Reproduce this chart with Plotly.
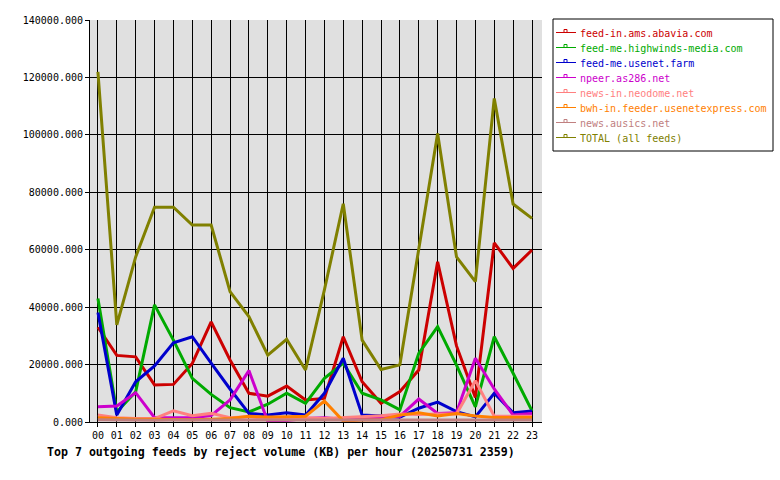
import plotly.graph_objects as go

hours = [f"{h:02d}" for h in range(24)]

feed_names = [
    "feed-in.ams.abavia.com",
    "feed-me.highwinds-media.com",
    "feed-me.usenet.farm",
    "npeer.as286.net",
    "news-in.neodome.net",
    "bwh-in.feeder.usenetexpress.com",
    "news.ausics.net",
    "TOTAL (all feeds)",
]
feed_colors = ["#cc0000", "#00aa00", "#0000cc", "#cc00cc", "#ff8080", "#ff8000", "#c08080", "#808000"]

abavia = [33000, 23200, 22700, 12900, 13100, 20400, 34900, 21600, 10000, 9000, 12500, 7700,
          8200, 29700, 14000, 6500, 10600, 18100, 55800, 26500, 8500, 62400, 53500, 59900]
highwinds = [43000, 3500, 10500, 40800, 28500, 15200, 9600, 5000, 3500, 6200, 10000, 6500,
             15200, 20500, 10000, 7700, 4200, 23900, 33200, 19800, 5300, 29700, 17000, 3900]
usenetfarm = [38100, 2400, 14000, 19500, 27600, 29700, 20500, 11500, 3000, 2400, 3200, 2400,
              10000, 22200, 2400, 2000, 1700, 4800, 6900, 3600, 1800, 10000, 3200, 3800]
as286 = [5300, 5600, 10200, 1500, 1500, 1500, 2200, 7700, 17900, 200, 500, 1200,
         1500, 1000, 1200, 1500, 2000, 8000, 3000, 3200, 22200, 11500, 2400, 3000]
neodome = [2400, 1500, 1200, 1200, 3900, 2200, 3000, 1500, 1800, 1200, 1500, 1500,
           1200, 1500, 1800, 2200, 2800, 2600, 2800, 2800, 14400, 2000, 2000, 2000]
usenetexpress = [1500, 1200, 1000, 1000, 800, 800, 1000, 1200, 2000, 1700, 1800, 2000,
                 7300, 300, 700, 800, 2400, 3200, 2100, 3000, 2100, 1600, 1600, 1600]
ausics = [800, 700, 700, 600, 700, 700, 700, 600, 700, 700, 700, 600,
          700, 800, 700, 700, 700, 600, 700, 700, 700, 600, 700, 700]
total = [121900, 33800, 57500, 74800, 74800, 68600, 68600, 45400, 36700, 23300, 28800, 18100,
         46000, 76000, 28500, 18300, 19900, 59900, 100500, 57500, 48900, 112700, 75900, 70900]

series = [abavia, highwinds, usenetfarm, as286, neodome, usenetexpress, ausics, total]

y_ticks = [0, 20000, 40000, 60000, 80000, 100000, 120000, 140000]

FONT = "DejaVu Sans Mono"
W, H = 780, 480
PL, PR, PT, PB = 90, 542, 20, 422  # plot area in pixels


def px(x):
    return (x - PL) / (PR - PL)


def py(y):
    return (PB - y) / (PB - PT)


fig = go.Figure()
for name, color, vals in zip(feed_names, feed_colors, series):
    fig.add_trace(go.Scatter(
        x=hours, y=vals,
        mode="lines",
        name=name,
        line=dict(color=color, width=3),
        showlegend=False,
        hoverinfo="x+y+name",
    ))

# Legend box (drawn as layout decoration, mirroring the original's legend style)
shapes = [dict(type="rect", xref="paper", yref="paper",
               x0=px(553), x1=px(773), y0=py(19), y1=py(151),
               line=dict(color="black", width=1), fillcolor="white", layer="above")]
annotations = []
for i, (name, color) in enumerate(zip(feed_names, feed_colors)):
    ly = 32.5 + 15 * i
    shapes.append(dict(type="line", xref="paper", yref="paper",
                       x0=px(556), x1=px(576), y0=py(ly), y1=py(ly),
                       line=dict(color=color, width=1), layer="above"))
    shapes.append(dict(type="rect", xref="paper", yref="paper",
                       x0=px(564), x1=px(567), y0=py(ly - 3), y1=py(ly),
                       line=dict(color=color, width=1), fillcolor="rgba(0,0,0,0)", layer="above"))
    annotations.append(dict(xref="paper", yref="paper", x=px(578), y=py(ly + 0.5),
                            xanchor="left", yanchor="middle", showarrow=False,
                            text=name, font=dict(family=FONT, size=10, color=color)))

fig.update_layout(
    width=W, height=H,
    margin=dict(l=PL, r=W - PR, t=PT, b=H - PB, autoexpand=False),
    paper_bgcolor="white",
    plot_bgcolor="#e0e0e0",
    font=dict(family=FONT, size=10, color="black"),
    showlegend=False,
    shapes=shapes,
    annotations=annotations,
    title=dict(
        text="<b>Top 7 outgoing feeds by reject volume (KB) per hour (20250731 2359)</b>",
        xref="container", yref="container",
        x=47 / W, y=1 - 452 / H, xanchor="left", yanchor="middle",
        font=dict(family=FONT, size=11.6, color="black"),
    ),
    xaxis=dict(
        type="category",
        range=[-0.42, 23.53],
        showgrid=True, gridcolor="black", gridwidth=1,
        showline=True, linecolor="black", linewidth=1,
        ticks="outside", ticklen=4, tickcolor="black",
        tickfont=dict(family=FONT, size=10),
        zeroline=False, automargin=False,
        fixedrange=True,
    ),
    yaxis=dict(
        range=[0, 140000],
        tickvals=y_ticks,
        tickformat=".3f",
        showgrid=True, gridcolor="black", gridwidth=1,
        showline=True, linecolor="black", linewidth=1,
        ticks="outside", ticklen=4, tickcolor="black",
        tickfont=dict(family=FONT, size=10),
        zeroline=False, automargin=False,
        fixedrange=True,
    ),
)

fig.write_html("out.html")
